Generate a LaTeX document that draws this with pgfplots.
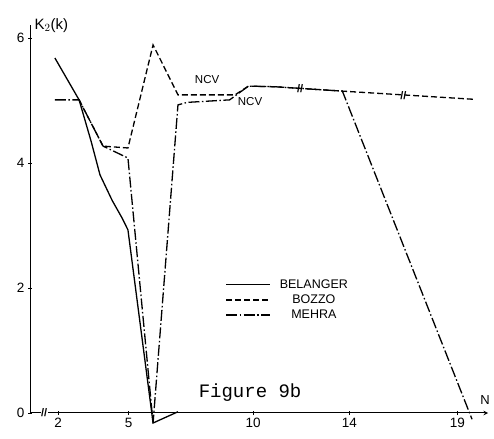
\documentclass[border=0pt]{standalone}
\usepackage{fontspec}
\setmainfont{Liberation Sans}
\setmonofont{Liberation Mono}
\usepackage{pgfplots}
\pgfplotsset{compat=1.18}
\begin{document}
\begin{tikzpicture}
\path[use as bounding box] (-30pt,-25pt) rectangle (464pt,413pt);
\begin{axis}[
  at={(0pt,0pt)}, anchor=south west,
  scale only axis, width=458pt, height=387.5pt,
  xmin=0.8, xmax=20.3, ymin=0, ymax=6.2,
  axis lines=left,
  axis line style={line width=1pt},
  x axis line style={-stealth},
  y axis line style={-},
  clip=false,
  xtick={2,5,10.3,14.4,19}, xticklabels={2,5,10,14,19},
  ytick={0,2,4,6},
  tick align=center,
  tick style={black, line width=0.8pt}, major tick length=4pt,
  /pgf/number format/assume math mode=true,
  ticklabel style={font=\fontsize{13.5}{13.5}\selectfont},
  legend style={draw=none, fill=none, at={(rel axis cs:0.42,0.355)}, anchor=north west,
    font=\fontsize{12.5}{12.5}\selectfont, row sep=1pt,
    nodes={text width=82pt, align=center}},
  legend cell align=left,
  legend image code/.code={\draw[#1] (0pt,0pt) -- (44pt,0pt);},
]
\addplot[black, line width=1.3pt] coordinates {
 (1.86,5.68) (2.89,5.01) (3.4,4.35) (3.78,3.81) (4.3,3.4) (4.72,3.12) (4.97,2.93) (6.04,-0.16) (7.1,0.02)};
\addlegendentry{BELANGER}
\addplot[black, line width=1.3pt, dash pattern=on 6pt off 3pt] coordinates {
 (2.89,5.01) (3.91,4.27) (4.97,4.24) (6.04,5.89) (7.1,5.09) (9.53,5.09) (10.1,5.23)
 (11.23,5.22) (14.1,5.15) (19.66,5.02)};
\addlegendentry{BOZZO}
\addplot[black, line width=1.3pt, dash pattern=on 11pt off 2.5pt on 1.5pt off 2.5pt] coordinates {
 (1.86,5.01) (2.89,5.01) (3.91,4.27) (4.97,4.08) (6.04,-0.16) (7.1,4.93) (7.5,4.97)
 (8.4,4.99) (9.3,5.01) (10.1,5.23) (11.23,5.22) (14.1,5.15) (19.62,-0.1)};
\addlegendentry{MEHRA}
\node[font=\fontsize{11.5}{11.5}\selectfont] at (axis cs:8.34,5.33) {NCV};
\node[font=\fontsize{11.5}{11.5}\selectfont] at (axis cs:10.17,4.98) {NCV};
\node[anchor=west, font=\fontsize{15}{15}\selectfont] at (axis cs:0.85,6.2) {K$_2$(k)};
\node[font=\fontsize{13}{13}\selectfont] at (axis cs:20.17,0.21) {N};
\node[font=\ttfamily\fontsize{19}{19}\selectfont] at (axis cs:10.17,0.32) {Figure 9b};
\node[font=\bfseries\fontsize{11}{11}\selectfont] at (axis cs:12.3,5.19) {//};
\node[font=\bfseries\fontsize{11}{11}\selectfont] at (axis cs:16.7,5.07) {//};
\node[font=\bfseries\fontsize{11}{11}\selectfont, fill=white, inner sep=0.5pt] at (axis cs:1.4,0) {//};
\end{axis}
\end{tikzpicture}
\end{document}
